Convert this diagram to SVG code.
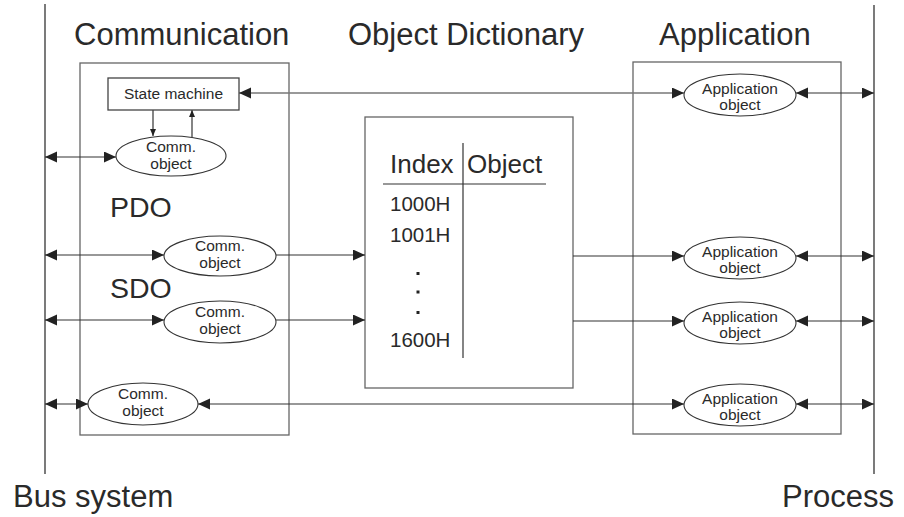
<svg xmlns="http://www.w3.org/2000/svg" width="904" height="517" viewBox="0 0 904 517">
<defs>
<style>
text{font-family:"Liberation Sans",Arial,sans-serif;fill:#2a2a2a}
.title{font-size:31px}
.big{font-size:28.5px}
.idx{font-size:26px}
.num{font-size:20.5px}
.small{font-size:15.5px;text-anchor:middle}
.box{fill:#fff;stroke:#666;stroke-width:1.3}
.ell{fill:#fff;stroke:#333;stroke-width:1.1}
.ln{stroke:#333;stroke-width:1.2;fill:none}
.gl{stroke:#777;stroke-width:1.6;fill:none}
.bus{stroke:#333;stroke-width:1.3}
</style>
<marker id="ah" markerUnits="userSpaceOnUse" markerWidth="13" markerHeight="12" refX="12" refY="5.5" orient="auto-start-reverse">
<path d="M0,0 L12,5.5 L0,11 z" fill="#222"/>
</marker>
<marker id="as" markerUnits="userSpaceOnUse" markerWidth="8" markerHeight="7" refX="7" refY="3" orient="auto-start-reverse">
<path d="M0,0 L7,3 L0,6 z" fill="#222"/>
</marker>
</defs>
<rect width="904" height="517" fill="#fff"/>

<g id="bus-system">
<line class="bus" x1="45" y1="4" x2="45" y2="474"/>
<text class="title" x="13" y="507">Bus system</text>
</g>
<g id="process">
<line class="bus" x1="874" y1="5" x2="874" y2="474"/>
<text class="title" x="782" y="507">Process</text>
</g>

<g id="communication">
<rect class="box" x="80" y="63" width="209" height="372"/>
<text class="title" x="74" y="45">Communication</text>
<text class="big" x="110" y="217">PDO</text>
<text class="big" x="110" y="298">SDO</text>
</g>
<g id="object-dictionary">
<rect class="box" x="365" y="117" width="208" height="271"/>
<text class="title" x="348" y="45">Object Dictionary</text>
<text class="idx" x="390" y="173">Index</text>
<text class="idx" x="467" y="173">Object</text>
<line class="ln" x1="383" y1="184" x2="546" y2="184"/>
<line class="ln" x1="463" y1="143" x2="463" y2="358"/>
<text class="num" x="390" y="211">1000H</text>
<text class="num" x="390" y="242">1001H</text>
<rect x="416.5" y="272" width="3" height="3" fill="#222"/>
<rect x="416.5" y="290.5" width="3" height="3" fill="#222"/>
<rect x="416.5" y="311" width="3" height="3" fill="#222"/>
<text class="num" x="390" y="347">1600H</text>
</g>
<g id="application">
<rect class="box" x="633" y="62" width="208" height="372"/>
<text class="title" x="659" y="45">Application</text>
</g>

<g id="connectors">
<line class="gl" x1="239" y1="93" x2="684" y2="93" marker-start="url(#ah)" marker-end="url(#ah)"/>
<line class="ln" x1="796" y1="93" x2="874" y2="93" marker-start="url(#ah)" marker-end="url(#ah)"/>
<line class="ln" x1="153" y1="110" x2="153" y2="136" marker-end="url(#as)"/>
<line class="ln" x1="192" y1="137" x2="192" y2="110" marker-end="url(#as)"/>
<line class="ln" x1="45" y1="157" x2="116" y2="157" marker-start="url(#ah)" marker-end="url(#ah)"/>
<line class="ln" x1="45" y1="255" x2="164" y2="255" marker-start="url(#ah)" marker-end="url(#ah)"/>
<line class="ln" x1="276" y1="255" x2="365" y2="255" marker-end="url(#ah)"/>
<line class="ln" x1="45" y1="320" x2="164" y2="320" marker-start="url(#ah)" marker-end="url(#ah)"/>
<line class="ln" x1="276" y1="320" x2="365" y2="320" marker-end="url(#ah)"/>
<line class="ln" x1="573" y1="256" x2="684" y2="256" marker-end="url(#ah)"/>
<line class="ln" x1="573" y1="321" x2="684" y2="321" marker-end="url(#ah)"/>
<line class="ln" x1="796" y1="256" x2="874" y2="256" marker-start="url(#ah)" marker-end="url(#ah)"/>
<line class="ln" x1="796" y1="321" x2="874" y2="321" marker-start="url(#ah)" marker-end="url(#ah)"/>
<line class="ln" x1="45" y1="404" x2="88" y2="404" marker-start="url(#ah)" marker-end="url(#ah)"/>
<line class="ln" x1="198" y1="404" x2="684" y2="404" marker-start="url(#ah)" marker-end="url(#ah)"/>
<line class="ln" x1="796" y1="404" x2="874" y2="404" marker-start="url(#ah)" marker-end="url(#ah)"/>
</g>

<g id="state-machine">
<rect class="box" x="108" y="78" width="131" height="32" style="stroke:#444"/>
<text class="small" x="173.5" y="99" style="font-size:15.5px">State machine</text>
</g>
<g id="comm-object-1">
<ellipse class="ell" cx="171" cy="156" rx="55" ry="20"/>
<text class="small" x="171" y="152">Comm.</text>
<text class="small" x="171" y="169">object</text>
</g>
<g id="comm-object-2">
<ellipse class="ell" cx="220" cy="256" rx="56" ry="20"/>
<text class="small" x="220" y="251">Comm.</text>
<text class="small" x="220" y="268">object</text>
</g>
<g id="comm-object-3">
<ellipse class="ell" cx="220" cy="322" rx="56" ry="21"/>
<text class="small" x="220" y="317">Comm.</text>
<text class="small" x="220" y="334">object</text>
</g>
<g id="comm-object-4">
<ellipse class="ell" cx="143" cy="404" rx="55" ry="21"/>
<text class="small" x="143" y="399">Comm.</text>
<text class="small" x="143" y="416">object</text>
</g>
<g id="app-object-1">
<ellipse class="ell" cx="740" cy="95" rx="56" ry="21"/>
<text class="small" x="740" y="94">Application</text>
<text class="small" x="740" y="110">object</text>
</g>
<g id="app-object-2">
<ellipse class="ell" cx="740" cy="258" rx="56" ry="21"/>
<text class="small" x="740" y="257">Application</text>
<text class="small" x="740" y="273">object</text>
</g>
<g id="app-object-3">
<ellipse class="ell" cx="740" cy="323" rx="56" ry="21"/>
<text class="small" x="740" y="322">Application</text>
<text class="small" x="740" y="338">object</text>
</g>
<g id="app-object-4">
<ellipse class="ell" cx="740" cy="405" rx="56" ry="21"/>
<text class="small" x="740" y="404">Application</text>
<text class="small" x="740" y="420">object</text>
</g>
</svg>
